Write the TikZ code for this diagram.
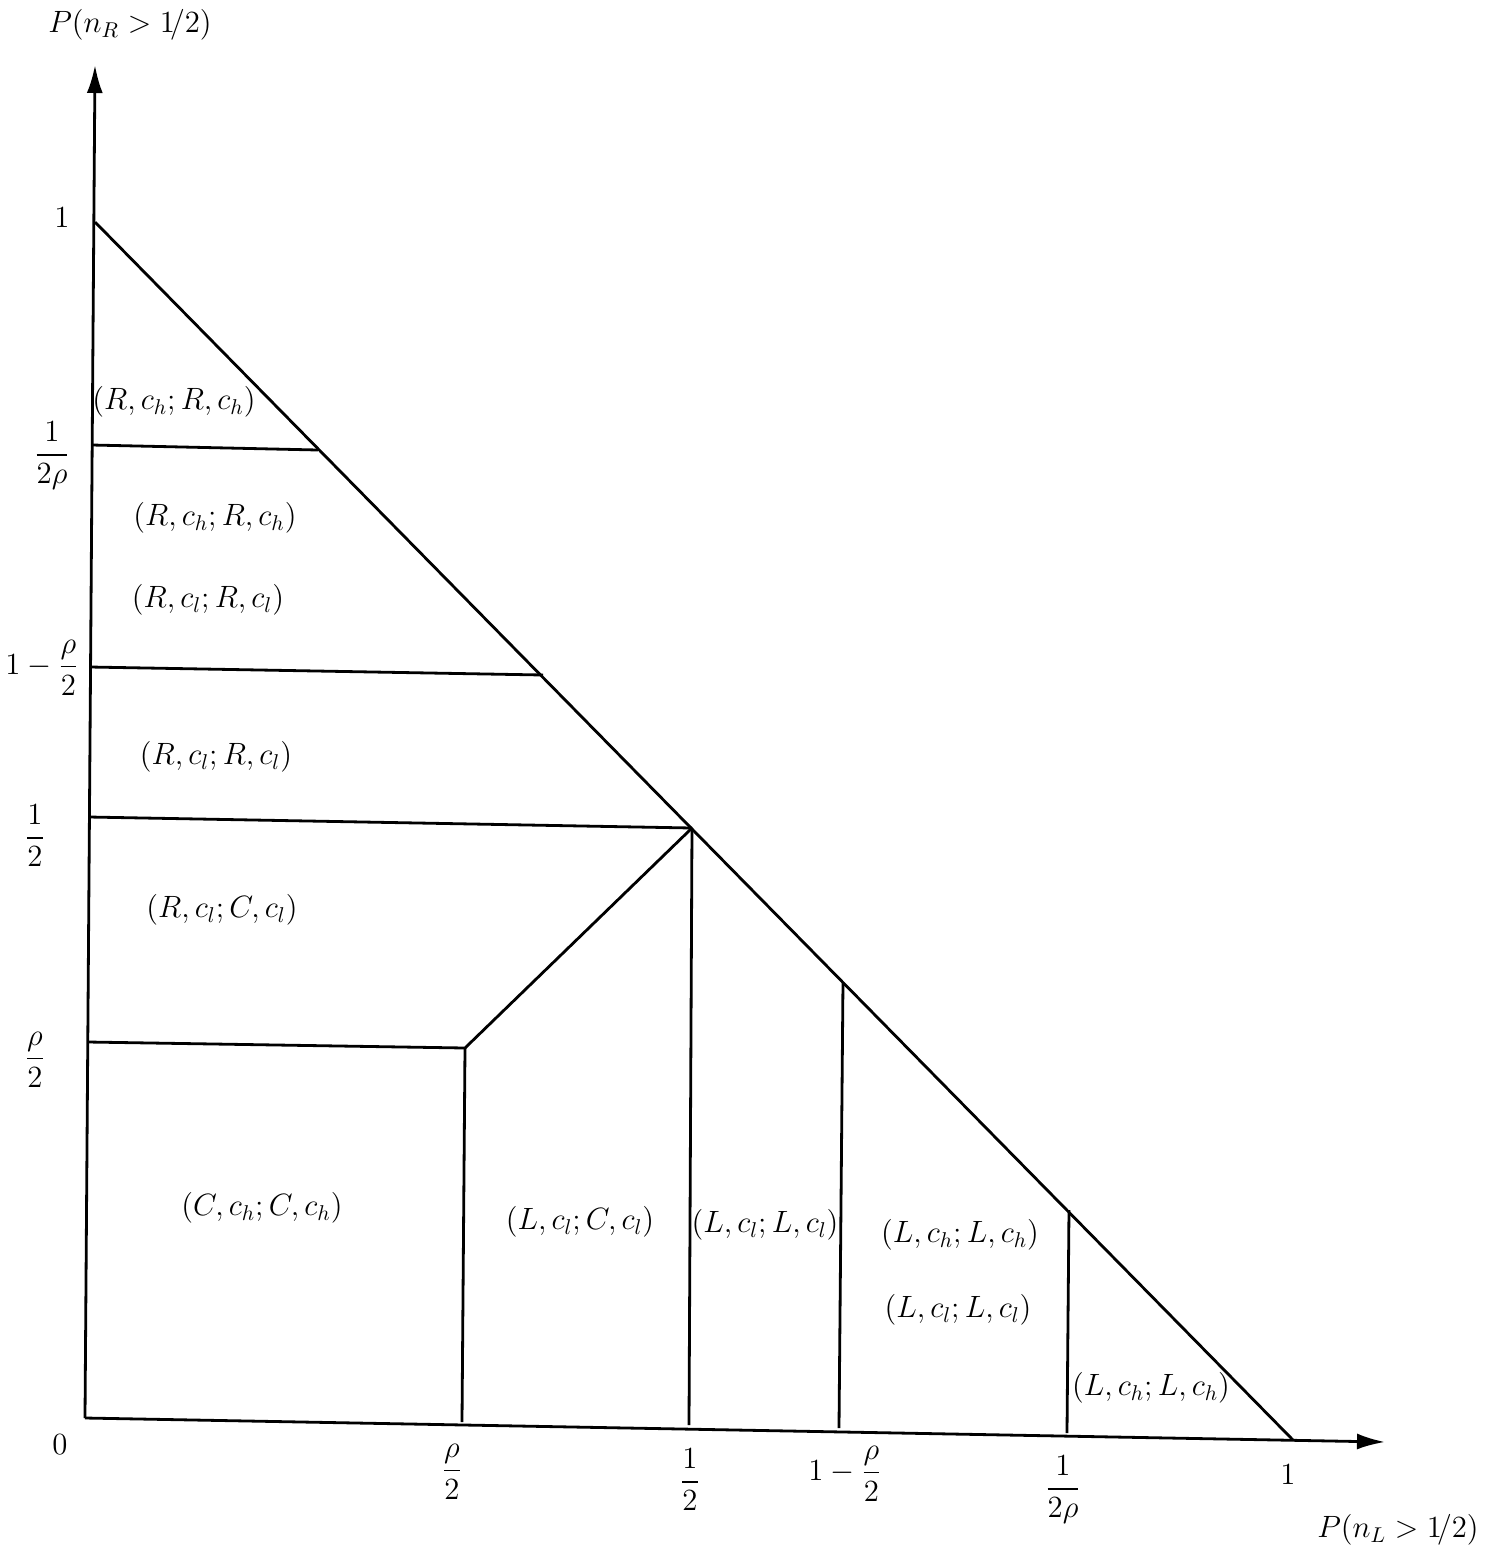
\documentclass[tikz,border=0pt]{standalone}
\usepackage{amsmath}
\usepackage{graphicx}
\usetikzlibrary{arrows.meta}
\newcommand{\mybig}[1]{\scalebox{1.07}{#1}}
\begin{document}
\begin{tikzpicture}[x=0.5pt,y=-0.5pt,
  ln/.style={line width=1.4pt},
  ax/.style={line width=1.4pt,-{Latex[length=14pt,width=8pt]}},
  lab/.style={font=\fontsize{14.4}{17}\selectfont, inner sep=1pt},
  tick/.style={font=\fontsize{14.4}{17}\selectfont, inner sep=1pt}]
\useasboundingbox (0,0) rectangle (1494,1555);
% key points
\coordinate (O) at (85,1418);
\coordinate (Ytop) at (95,65);
\coordinate (Xend) at (1385,1442);
\coordinate (D1) at (95,222);
\coordinate (D2) at (1293,1440);
\coordinate (A1) at (92,445);  \coordinate (A2) at (318,450);
\coordinate (B1) at (90,667);  \coordinate (B2) at (543,675);
\coordinate (C1) at (89,817);  \coordinate (C2) at (692,828);
\coordinate (E1) at (88,1042); \coordinate (E2) at (465,1048);
\coordinate (F2) at (462,1422);
\coordinate (G2) at (689,1425);
\coordinate (H1) at (843,982); \coordinate (H2) at (839,1428);
\coordinate (K1) at (1069,1210); \coordinate (K2) at (1067,1433);
% axes
\draw[ax] (O) -- (Ytop);
\draw[ax] (O) -- (Xend);
% diagonal
\draw[ln] (D1) -- (D2);
% horizontal boundaries
\draw[ln] (A1) -- (A2);
\draw[ln] (B1) -- (B2);
\draw[ln] (C1) -- (C2);
\draw[ln] (E1) -- (E2) -- (C2);
% vertical boundaries
\draw[ln] (E2) -- (F2);
\draw[ln] (C2) -- (G2);
\draw[ln] (H1) -- (H2);
\draw[ln] (K1) -- (K2);
% axis labels
\node[tick] (ylab) at (130,25) {\mybig{$P(n_R > 1\!/2)$}};
\node[tick] (xlab) at (1398,1530) {\mybig{$P(n_L > 1\!/2)$}};
% y ticks
\node[tick] (y1) at (62,218) {\mybig{$1$}};
\node[tick] (y2) at (52,456) {\mybig{$\dfrac{1}{2\rho}$}};
\node[tick] (y3) at (42,668) {\mybig{$1-\dfrac{\rho}{2}$}};
\node[tick] (y4) at (35,836) {\mybig{$\dfrac{1}{2}$}};
\node[tick] (y5) at (35,1060) {\mybig{$\dfrac{\rho}{2}$}};
\node[tick] (y0) at (60,1445) {\mybig{$0$}};
% x ticks
\node[tick] (x1) at (452,1472) {\mybig{$\dfrac{\rho}{2}$}};
\node[tick] (x2) at (690,1480) {\mybig{$\dfrac{1}{2}$}};
\node[tick] (x3) at (845,1474) {\mybig{$1-\dfrac{\rho}{2}$}};
\node[tick] (x4) at (1063,1490) {\mybig{$\dfrac{1}{2\rho}$}};
\node[tick] (x5) at (1288,1475) {\mybig{$1$}};
% region labels
\node[lab] (r1) at (174,402) {\mybig{$(R,c_h;R,c_h)$}};
\node[lab] (r2) at (215,518) {\mybig{$(R,c_h;R,c_h)$}};
\node[lab] (r3) at (208,600) {\mybig{$(R,c_l;R,c_l)$}};
\node[lab] (r4) at (216,757) {\mybig{$(R,c_l;R,c_l)$}};
\node[lab] (r5) at (222,910) {\mybig{$(R,c_l;C,c_l)$}};
\node[lab] (r6) at (262,1208) {\mybig{$(C,c_h;C,c_h)$}};
\node[lab] (r7) at (580,1222) {\mybig{$(L,c_l;C,c_l)$}};
\node[lab] (r8) at (765,1225) {\mybig{$(L,c_l;L,c_l)$}};
\node[lab] (r9) at (960,1235) {\mybig{$(L,c_h;L,c_h)$}};
\node[lab] (r10) at (958,1310) {\mybig{$(L,c_l;L,c_l)$}};
\node[lab] (r11) at (1151,1388) {\mybig{$(L,c_h;L,c_h)$}};
\end{tikzpicture}
\end{document}
